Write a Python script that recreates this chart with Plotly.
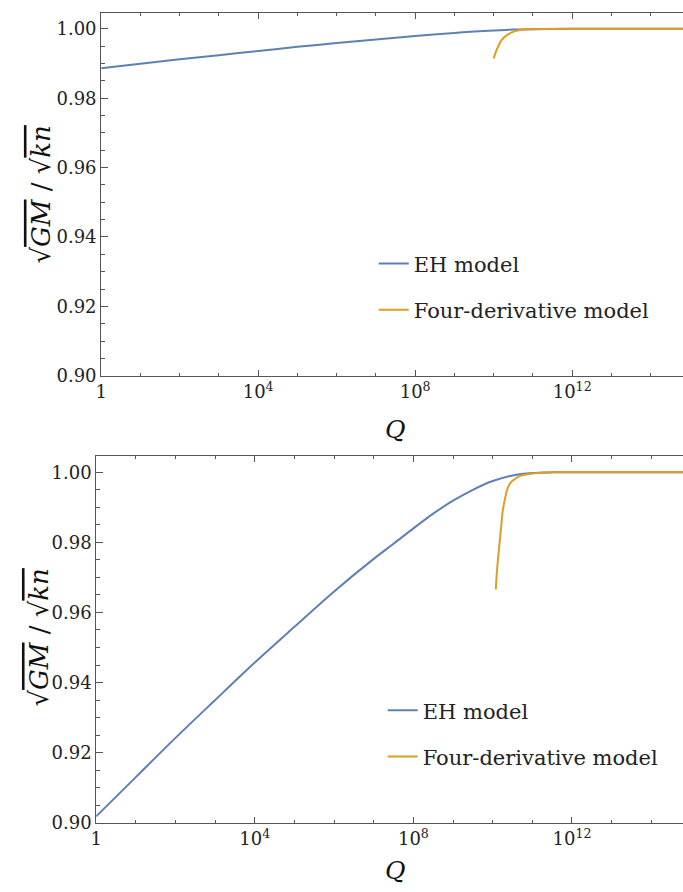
import plotly.graph_objects as go

W, H = 683, 892

# ---- data -------------------------------------------------------------
# Upper panel
q_eh_top = [1, 1e1, 1e2, 1e3, 1e4, 1e5, 1e6, 1e7, 1e8, 1e9, 3.16e9, 1e10,
            3.16e10, 1e11, 1e12, 1e13, 1e14, 1e15]
v_eh_top = [0.9886, 0.9899, 0.9912, 0.9924, 0.9936, 0.9948, 0.9959, 0.9969,
            0.9979, 0.9988, 0.9992, 0.9995, 0.9998, 0.9999, 1.0, 1.0, 1.0, 1.0]

q_fd_top = [1.0e10, 1.12e10, 1.32e10, 1.58e10, 2.14e10, 3.47e10, 6.17e10,
            2e11, 1e12, 1e13, 1e14, 1e15]
v_fd_top = [0.99145, 0.99316, 0.99504, 0.99675, 0.99809, 0.99932, 0.9998,
            0.99998, 1.0, 1.0, 1.0, 1.0]

# Lower panel
q_eh_bot = [1, 1e1, 1e2, 1e3, 1e4, 1e5, 1e6, 1e7, 3.16e7, 1e8, 3.16e8, 1e9,
            3.16e9, 1e10, 3.16e10, 1e11, 3.16e11, 1e12, 1e13, 1e14, 1e15]
v_eh_bot = [0.9018, 0.9130, 0.9242, 0.9350, 0.9457, 0.9559, 0.9660, 0.9753,
            0.9796, 0.9840, 0.9882, 0.9919, 0.9950, 0.9975, 0.9991, 0.9998,
            0.99998, 1.0, 1.0, 1.0, 1.0]

q_fd_bot = [1.20e10, 1.25e10, 1.35e10, 1.48e10, 1.63e10, 1.79e10, 2.06e10,
            2.39e10, 2.90e10, 3.87e10, 5.16e10, 7.57e10, 1.35e11, 2.9e11,
            1e12, 1e13, 1e14, 1e15]
v_fd_bot = [0.96654, 0.97011, 0.97480, 0.97950, 0.98421, 0.98890, 0.99267,
            0.99549, 0.99718, 0.99831, 0.99904, 0.99944, 0.9998, 1.0,
            1.0, 1.0, 1.0, 1.0]

x_major = [1, 1e4, 1e8, 1e12]
x_major_text = ["1", "10<sup>4</sup>", "10<sup>8</sup>", "10<sup>12</sup>"]
x_minor = [10.0 ** k for k in range(0, 16)]
y_major = [0.90, 0.92, 0.94, 0.96, 0.98, 1.00]

series_names = ["EH model", "Four-derivative model"]
colors = ["#5E81B5", "#E19C24"]

# ---- helpers -----------------------------------------------------------
def px_x(p):
    return p / W

def px_y(p):
    return (H - p) / H

SERIF = "DejaVu Serif"
AX = "#555555"

fig = go.Figure()

panels = [
    dict(xa="x", ya="y", leg="legend", q=(q_eh_top, q_fd_top), v=(v_eh_top, v_fd_top)),
    dict(xa="x2", ya="y2", leg="legend2", q=(q_eh_bot, q_fd_bot), v=(v_eh_bot, v_fd_bot)),
]
for i, p in enumerate(panels):
    for j in range(2):
        fig.add_trace(go.Scatter(
            x=p["q"][j], y=p["v"][j], mode="lines",
            name=series_names[j], legendgroup=f"g{i}{j}",
            line=dict(color=colors[j], width=2, shape="spline", smoothing=0.8),
            xaxis=p["xa"], yaxis=p["ya"], legend=p["leg"],
        ))

def xaxis_cfg(left_px, per_decade, y_anchor):
    return dict(
        type="log", domain=[px_x(left_px), 1.0],
        range=[0, (W - left_px) / per_decade],
        anchor=y_anchor, showgrid=False, zeroline=False,
        showline=True, linecolor=AX, linewidth=1, mirror="ticks",
        ticks="inside", ticklen=6, tickcolor=AX, tickwidth=1,
        tickmode="array", tickvals=x_major, ticktext=x_major_text,
        tickfont=dict(family=SERIF, size=18, color="#222"),
        minor=dict(tickmode="array", tickvals=x_minor, ticks="inside",
                   ticklen=3, tickcolor=AX, tickwidth=1, showgrid=False),
    )

def yaxis_cfg(top_px, bot_px, y_top, x_anchor):
    return dict(
        domain=[px_y(bot_px), px_y(top_px)], range=[0.90, y_top],
        anchor=x_anchor, showgrid=False, zeroline=False,
        showline=True, linecolor=AX, linewidth=1,
        ticks="inside", ticklen=7, tickcolor=AX, tickwidth=1,
        tickmode="array", tickvals=y_major, tickformat=".2f",
        tickfont=dict(family=SERIF, size=18, color="#222"),
        minor=dict(dtick=0.005, tick0=0.90, ticks="inside", ticklen=4,
                   tickcolor=AX, tickwidth=1, showgrid=False),
    )

ytitle = ('√<span style="text-decoration:overline"><i>GM</i></span>'
          ' / √<span style="text-decoration:overline"><i>kn</i></span>')

annotations = []
for cx, cy in [(35, 197), (33, 645)]:
    annotations.append(dict(
        text=ytitle, xref="paper", yref="paper", x=px_x(cx), y=px_y(cy),
        xanchor="center", yanchor="middle", textangle=-90, showarrow=False,
        font=dict(family=SERIF, size=26, color="#111")))
for cx, cy in [(393, 434), (393, 880)]:
    annotations.append(dict(
        text="<i>Q</i>", xref="paper", yref="paper", x=px_x(cx), y=px_y(cy),
        xanchor="center", yanchor="middle", showarrow=False,
        font=dict(family=SERIF, size=25, color="#111")))

legend_common = dict(
    font=dict(family=SERIF, size=21, color="#222"),
    bgcolor="rgba(0,0,0,0)", borderwidth=0, tracegroupgap=16,
    xanchor="left", yanchor="top", itemclick=False, itemdoubleclick=False,
)

fig.update_layout(
    width=W, height=H, margin=dict(l=0, r=0, t=0, b=0),
    paper_bgcolor="white", plot_bgcolor="white",
    font=dict(family=SERIF),
    xaxis=xaxis_cfg(96, 39.6, "y"),
    yaxis=yaxis_cfg(13, 380, 1.0046, "x"),
    xaxis2=xaxis_cfg(91, 40.0, "y2"),
    yaxis2=yaxis_cfg(461, 832, 1.0047, "x2"),
    legend=dict(x=px_x(371), y=px_y(246), **legend_common),
    legend2=dict(x=px_x(380), y=px_y(698), **legend_common),
    annotations=annotations,
    showlegend=True,
)

fig.write_html("out.html")
